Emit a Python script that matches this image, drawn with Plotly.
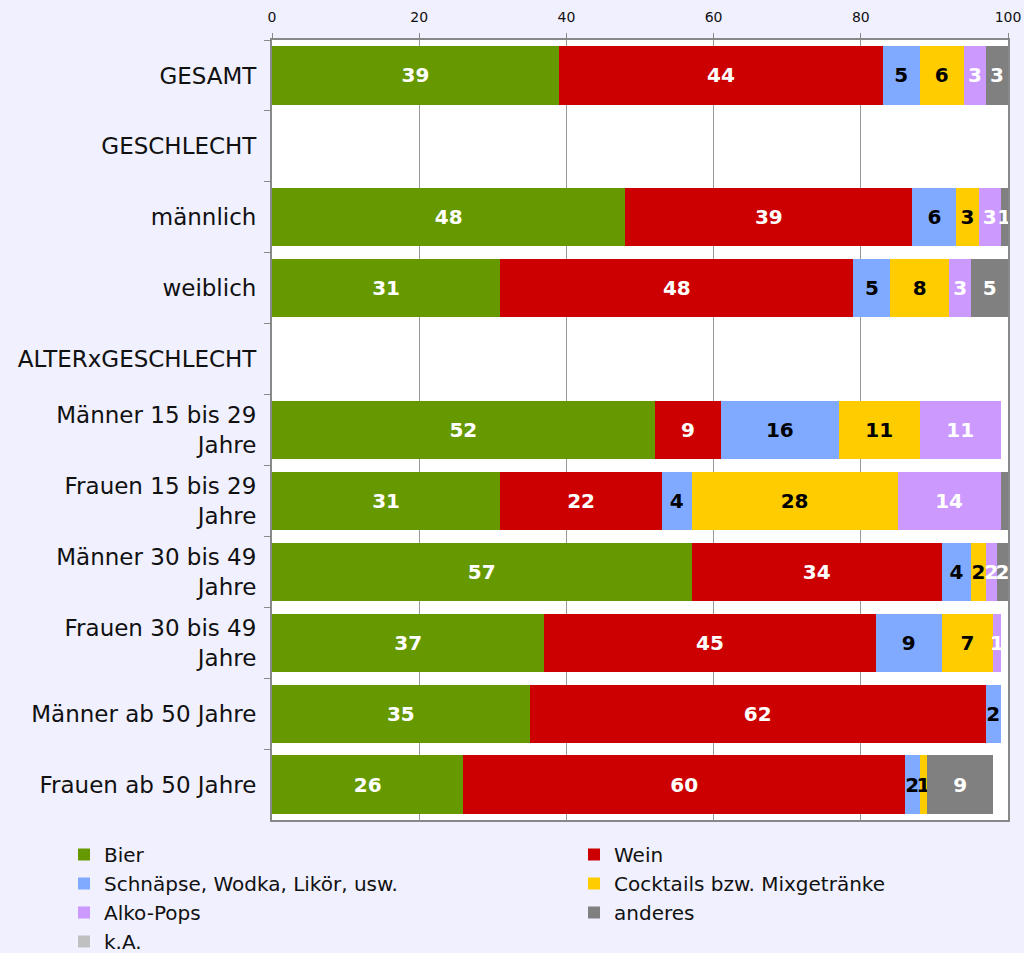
import plotly.graph_objects as go

categories = ["GESAMT", "GESCHLECHT", "männlich", "weiblich", "ALTERxGESCHLECHT",
              "Männer 15 bis 29<br>Jahre", "Frauen 15 bis 29<br>Jahre",
              "Männer 30 bis 49<br>Jahre", "Frauen 30 bis 49<br>Jahre",
              "Männer ab 50 Jahre", "Frauen ab 50 Jahre"]

bier = [39, None, 48, 31, None, 52, 31, 57, 37, 35, 26]
wein = [44, None, 39, 48, None, 9, 22, 34, 45, 62, 60]
schnaepse = [5, None, 6, 5, None, 16, 4, 4, 9, 2, 2]
cocktails = [6, None, 3, 8, None, 11, 28, 2, 7, None, 1]
alkopops = [3, None, 3, 3, None, 11, 14, 1.5, 1, None, None]
anderes = [3, None, 1, 5, None, None, 1, 1.5, None, None, 9]
ka = [None] * len(categories)

# name, values, colour, label colour, legend column
series = [
    ("Bier", bier, "#669900", "white", "legend"),
    ("Wein", wein, "#CC0000", "white", "legend2"),
    ("Schnäpse, Wodka, Likör, usw.", schnaepse, "#80AAFF", "black", "legend"),
    ("Cocktails bzw. Mixgetränke", cocktails, "#FFCC00", "black", "legend2"),
    ("Alko-Pops", alkopops, "#CC99FF", "white", "legend"),
    ("anderes", anderes, "#808080", "white", "legend2"),
    ("k.A.", ka, "#C0C0C0", "white", "legend"),
]

# labels hidden where the reference shows none
hidden = {("anderes", 6)}

fig = go.Figure()
for name, vals, color, tcol, leg in series:
    texts = []
    for i, v in enumerate(vals):
        if v is None or (name, i) in hidden:
            texts.append("")
        else:
            texts.append(f"{round(v):d}")
    fig.add_trace(go.Bar(
        name=name, y=categories, x=vals, orientation="h",
        marker=dict(color=color, line=dict(width=0)),
        text=texts, textposition="inside", insidetextanchor="middle",
        textangle=0,
        insidetextfont=dict(family="DejaVu Sans", size=20, color=tcol, weight="bold"),
        hoverinfo="skip", legend=leg,
    ))

legend_font = dict(family="DejaVu Sans", size=20, color="#111111")
fig.update_layout(
    barmode="stack",
    bargap=0.18,
    width=1024, height=953,
    margin=dict(l=272, r=16, t=40, b=133, autoexpand=False),
    paper_bgcolor="#F0F0FF",
    plot_bgcolor="white",
    uniformtext=dict(minsize=20, mode="show"),
    font=dict(family="DejaVu Sans", color="#111111"),
    showlegend=True,
    legend=dict(
        orientation="v", xref="container", yref="container",
        x=64 / 1024, y=1 - 835 / 953, xanchor="left", yanchor="top",
        font=legend_font, bgcolor="rgba(0,0,0,0)", traceorder="normal",
        tracegroupgap=0,
    ),
    legend2=dict(
        orientation="v", xref="container", yref="container",
        x=574 / 1024, y=1 - 835 / 953, xanchor="left", yanchor="top",
        font=legend_font, bgcolor="rgba(0,0,0,0)", traceorder="normal",
        tracegroupgap=0,
    ),
    xaxis=dict(
        side="top", range=[0, 100], dtick=20,
        showgrid=True, gridcolor="#999999", gridwidth=1,
        showline=True, linecolor="#888888", linewidth=2, mirror=True,
        ticks="outside", ticklen=5, tickcolor="#888888",
        tickfont=dict(family="DejaVu Sans", size=14, color="#111111"),
        ticklabelstandoff=5,
        zeroline=False, fixedrange=True,
    ),
    yaxis=dict(
        autorange="reversed",
        showline=True, linecolor="#888888", linewidth=2, mirror=True,
        ticks="outside", ticklen=6, tickcolor="#888888", tickson="boundaries",
        tickfont=dict(family="DejaVu Sans", size=23, color="#111111"),
        ticklabelstandoff=9,
        showgrid=False, fixedrange=True,
    ),
)

fig.write_html(
    "out.html",
    config={"displayModeBar": False},
    post_script="document.body.style.margin='0';document.body.style.background='#F0F0FF';",
)
